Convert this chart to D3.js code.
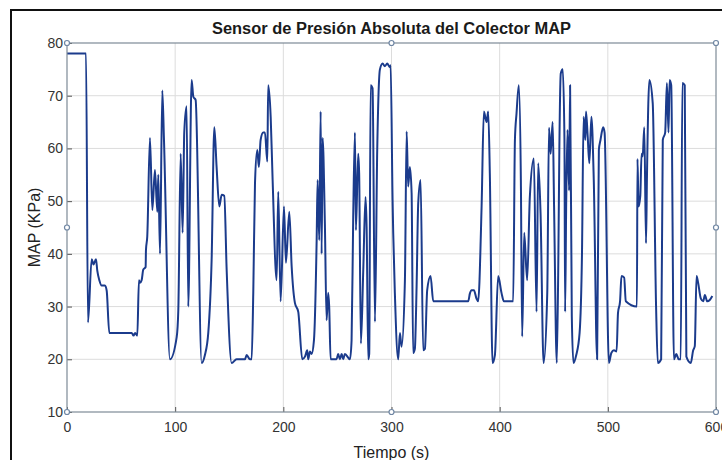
<!DOCTYPE html>
<html>
<head>
<meta charset="utf-8">
<script src="https://cdn.jsdelivr.net/npm/d3@7"></script>
<style>
  html, body { margin: 0; padding: 0; background: #fff; }
  svg { display: block; font-family: "Liberation Sans", Arial, sans-serif; }
</style>
</head>
<body>
<div id="chart"></div>
<script>
// time (s) and MAP (kPa)
const tiempo = [0, 17.6, 19.4, 22.8, 24.5, 26.8, 28, 29.9, 32, 35.1, 36.7, 39.1, 59.8, 61.5, 63, 65,
  66.5, 67.5, 69, 70.5, 72.7, 73, 74.2, 76.7, 78.9, 81.3, 83.5, 84.4, 86, 88.1, 89.6, 95.2, 101.4,
  102.9, 105.1, 106.9, 108.4, 110.6, 112.1, 115.2, 116.8, 118.9, 124.5, 127.5, 130.6, 133.7, 136.2,
  138.3, 140.8, 143, 145.4, 147.6, 152.2, 156.8, 164.5, 166.1, 169.1, 170.7, 172.2, 173.8, 175.9,
  177.4, 179, 181.4, 183, 185.2, 186, 188.3, 190.1, 193.8, 195.3, 197.5, 200.6, 202.4, 205.5, 207.7,
  210.7, 213.8, 217.5, 220, 222.1, 223, 224.6, 226.1, 228.3, 230.8, 231.7, 233.2, 234.5, 235.4,
  236.3, 238.4, 240, 241.5, 242.4, 243.7, 249.2, 250.7, 252.3, 253.9, 255.4, 256.9, 261.6, 263.1,
  264.6, 266.2, 267.1, 269.2, 270.1, 271.7, 273.9, 276, 277, 278.5, 279.4, 280.7, 282.5, 284.7,
  286.8, 289.3, 291.8, 293.9, 296, 298.5, 299.2, 301, 301.6, 303.1, 306.2, 307.8, 309.3, 312.4,
  314, 315.4, 317, 318.6, 320, 321.6, 323.2, 324.7, 326.9, 329.3, 330.9, 333, 336.1, 338.6, 370.9,
  372.5, 374, 376.2, 378.6, 380.1, 383.3, 385.4, 387.9, 389.4, 390.9, 393.4, 395.6, 398.6, 401.7,
  403.9, 412.5, 414.1, 415.6, 417.7, 419.6, 420.8, 422.7, 425.4, 427.9, 431.6, 434.1, 435.6, 437.8,
  440.6, 444, 445.6, 447.1, 449, 450.3, 452.8, 454.3, 455.2, 456.5, 458.3, 459.9, 460.5, 461.5,
  462.7, 464.2, 465.1, 466.7, 468.2, 470.8, 473.9, 476.1, 477.6, 479.2, 479.8, 481.4, 482.9, 484.8,
  487, 490.1, 491.7, 493.2, 495.7, 497, 501, 503.2, 505.7, 508.1, 509.4, 511.3, 512.6, 515.1, 516.6,
  526.9, 527.4, 528.4, 530, 531.2, 532.2, 533.7, 535.3, 536.2, 538.4, 541.5, 544.6, 546.2, 549.3,
  550.8, 553, 554.6, 556.1, 557.1, 558.6, 561.1, 563.3, 565.5, 567.4, 568.9, 571.1, 572.6, 576.7,
  578.9, 580.4, 582, 583.5, 586, 588.2, 589.7, 591.9, 594.4, 596.6];
const presion = [78, 78, 27, 39, 38, 39, 36.8, 35, 34, 34, 33, 25, 25, 24.5, 25, 24.5,
  35, 34.5, 35, 37, 37.5, 40.7, 43.3, 62, 48.3, 55.9, 48, 55, 40, 71, 62, 20, 24.2,
  29.3, 59, 44, 63, 68, 30, 73, 69.8, 69.2, 19.3, 20.8, 25, 38.8, 64,
  56.5, 49, 51.2, 51, 37, 19.3, 20, 20, 20.8, 20, 20, 32.5, 53.4, 59.7,
  56.5, 61.6, 63, 63, 57.5, 72, 66, 54, 35, 51.8, 31, 49, 38.3, 48, 37.6,
  30.7, 29, 20, 20.5, 21.7, 20, 21.5, 21, 23.6, 42.6, 54, 42.6, 67, 40,
  62, 45.8, 27.4, 32.6, 30, 20, 20, 21, 20, 21, 20, 21, 20, 23.6,
  47, 63, 44.5, 59, 55.3, 23, 37, 50.8, 45.1, 20, 21, 72, 71.4, 27.1,
  59.7, 75, 76.1, 75.6, 76.1, 75.4, 75.8, 50.2, 43.9, 32.6, 20, 25, 22.4, 35,
  63.2, 52.8, 56.5, 51.5, 21.2, 22, 33.8, 49.6, 54, 21.7, 22, 33.1, 35.8, 31, 31,
  32.5, 33.1, 33.1, 31.5, 31, 49, 67, 65, 67, 55.3, 19.3, 20.8, 35.8, 32.6,
  31, 31, 61.6, 66.7, 72, 54, 24.3, 44, 35, 50.8, 58.1, 29, 57.2, 47.7,
  19.3, 32.6, 63.9, 59, 65, 49, 19.3, 40.1, 60.3, 74.2, 75, 61.6, 29, 49.5,
  63.5, 52, 72, 28.1, 19.3, 20.8, 25, 40, 66, 61.6, 67, 62.2, 57.2, 66,
  54, 20, 59.7, 61.6, 64, 63, 19.3, 21.2, 21.7, 21.5, 28.8, 31, 35.8, 35.5, 31,
  30, 58, 49, 51, 59, 58.5, 64, 42, 55, 73, 68.6, 30, 19.3, 20,
  61.6, 63, 72.4, 63, 73, 72, 20, 21, 20, 20, 72.4, 72, 20.5, 19.3,
  21.7, 22.5, 35.8, 34.5, 31.5, 31, 32.2, 31, 31.3, 32];

const xTicks = [0, 100, 200, 300, 400, 500, 600];
const yTicks = [10, 20, 30, 40, 50, 60, 70, 80];

const W = 722, H = 460;
const L = 67, R = 716, T = 43, B = 412;

const svg = d3.select('#chart').append('svg').attr('width', W).attr('height', H);

// figure frame
svg.append('rect').attr('x', 11).attr('y', 10).attr('width', 740).attr('height', 480)
  .attr('fill', 'none').attr('stroke', '#111').attr('stroke-width', 2);

const x = d3.scaleLinear().domain([0, 600]).range([L, R]);
const y = d3.scaleLinear().domain([10, 80]).range([B, T]);

// grid
svg.append('g').selectAll('line').data(xTicks.slice(1, -1)).join('line')
  .attr('x1', d => x(d)).attr('x2', d => x(d)).attr('y1', T).attr('y2', B)
  .attr('stroke', '#dcdcdc').attr('stroke-width', 1);
svg.append('g').selectAll('line').data(yTicks.slice(1, -1)).join('line')
  .attr('x1', L).attr('x2', R).attr('y1', d => y(d)).attr('y2', d => y(d))
  .attr('stroke', '#dcdcdc').attr('stroke-width', 1);

// axes (MATLAB style, ticks inside)
const ax = svg.append('g').attr('transform', `translate(0,${B})`)
  .call(d3.axisBottom(x).tickValues(xTicks).tickSizeInner(-5).tickSizeOuter(0).tickPadding(10));
const ay = svg.append('g').attr('transform', `translate(${L},0)`)
  .call(d3.axisLeft(y).tickValues(yTicks).tickSizeInner(-5).tickSizeOuter(0).tickPadding(4));
[ax, ay].forEach(g => {
  g.select('.domain').remove();
  g.selectAll('line').attr('stroke', '#555');
  g.selectAll('text').attr('font-size', 14).attr('fill', '#333')
    .attr('font-family', '"Liberation Sans", Arial, sans-serif');
});

// line
const line = d3.line().x((d, i) => x(tiempo[i])).y(d => y(d)).curve(d3.curveMonotoneX);
svg.append('path').datum(presion).attr('d', line)
  .attr('fill', 'none').attr('stroke', '#1b3b8c').attr('stroke-width', 2).attr('stroke-linejoin', 'round');

// axes box
svg.append('rect').attr('x', L).attr('y', T).attr('width', R - L).attr('height', B - T)
  .attr('fill', 'none').attr('stroke', '#7d8a97').attr('stroke-width', 1.2);

// selection handles
const hx = [L, (L + R) / 2, R], hy = [T, (T + B) / 2, B];
const handles = [];
hx.forEach(a => hy.forEach(b => { if (!(a === hx[1] && b === hy[1])) handles.push([a, b]); }));
svg.append('g').selectAll('circle').data(handles).join('circle')
  .attr('cx', d => d[0]).attr('cy', d => d[1]).attr('r', 2.5)
  .attr('fill', '#fff').attr('stroke', '#6f86a3').attr('stroke-width', 1.2);

// titles
svg.append('text').attr('x', (L + R) / 2).attr('y', 34).attr('text-anchor', 'middle')
  .attr('font-size', 16).attr('font-weight', 'bold').attr('fill', '#1a1a1a')
  .attr('textLength', 359).attr('lengthAdjust', 'spacingAndGlyphs')
  .text('Sensor de Presión Absoluta del Colector MAP');
svg.append('text').attr('x', (L + R) / 2).attr('y', 458).attr('text-anchor', 'middle')
  .attr('font-size', 16).attr('fill', '#222').text('Tiempo (s)');
svg.append('text').attr('transform', `translate(40,${(T + B) / 2}) rotate(-90)`)
  .attr('text-anchor', 'middle').attr('font-size', 16).attr('fill', '#222').text('MAP (KPa)');
</script>
</body>
</html>
